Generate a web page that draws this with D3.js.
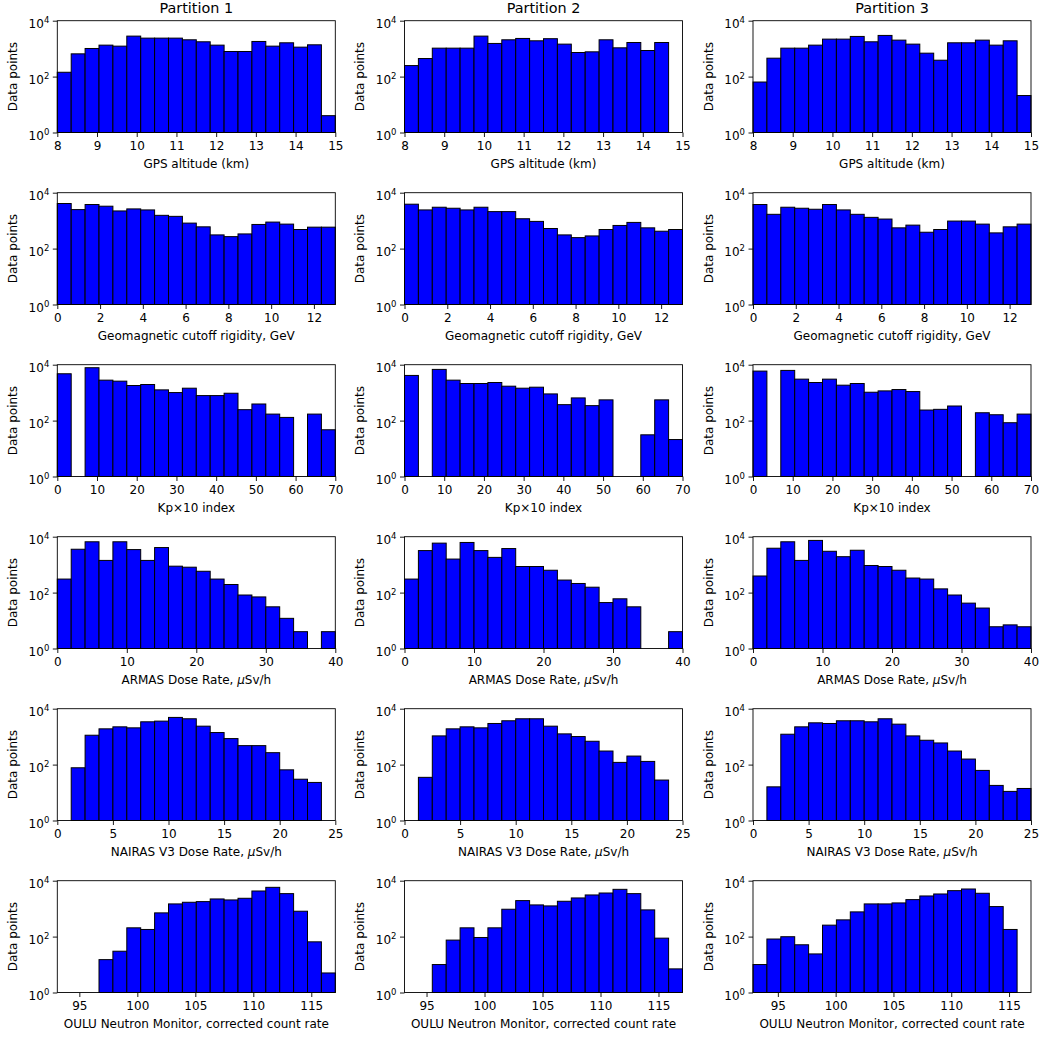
<!DOCTYPE html>
<html>
<head>
<meta charset="utf-8">
<script src="https://cdn.jsdelivr.net/npm/d3@7"></script>
<style>
  body { margin: 0; background: #fff; }
  text { font-family: "DejaVu Sans", sans-serif; fill: #000; }
</style>
</head>
<body>
<div id="chart"></div>
<script>
const partitions = ['Partition 1', 'Partition 2', 'Partition 3'];
const yTicks = [1, 100, 10000];

// counts per bin, 20 equal bins over each x range; one array per partition
const gpsAltitude = [
    [143, 652, 1014, 1336, 1230, 2810, 2380, 2380, 2380, 2075, 1760, 1336, 791, 791, 1808, 1230, 1620, 1132, 1373, 4],
    [248, 443, 1042, 1042, 1042, 2810, 1535, 2075, 2318, 1910, 2270, 1452, 728, 770, 2075, 1071, 1660, 859, 1660, 0],
    [64, 456, 1042, 1042, 1336, 2193, 2193, 2735, 1760, 2972, 2018, 1452, 689, 386, 1620, 1620, 2018, 1336, 1910, 21]
];
const gpsRange = [8, 15];
const gpsTicks = [8, 9, 10, 11, 12, 13, 14, 15];

const cutoffRigidity = [
    [4103, 2487, 3777, 3288, 2225, 2630, 2420, 1550, 1425, 817, 601, 309, 268, 335, 731, 889, 752, 482, 585, 585],
    [3880, 2420, 3020, 2780, 2420, 3020, 2105, 2105, 1170, 940, 524, 309, 247, 284, 482, 673, 865, 553, 419, 482],
    [3777, 1686, 3020, 2780, 2558, 3777, 2420, 1686, 1312, 1141, 553, 692, 385, 482, 966, 966, 752, 365, 601, 752]
];
const cutoffRange = [0, 13];
const cutoffTicks = [0, 2, 4, 6, 8, 10, 12];

const kpIndex = [
    [4740, 0, 7800, 2800, 2578, 1800, 1955, 1257, 1007, 1443, 785, 785, 953, 246, 393, 171, 130, 0, 171, 47],
    [4130, 0, 6790, 2800, 2125, 2125, 2307, 1703, 1443, 1567, 901, 372, 648, 343, 552, 0, 0, 31, 552, 21],
    [5910, 0, 6250, 3044, 2307, 3044, 1850, 2125, 1035, 1156, 1291, 1094, 239, 253, 333, 0, 191, 162, 84, 171]
];
const kpRange = [0, 70];
const kpTicks = [0, 10, 20, 30, 40, 50, 60, 70];

const armasDose = [
    [305, 3560, 6580, 1418, 6580, 3460, 1418, 4090, 882, 811, 580, 305, 195, 82, 70, 31, 12, 4, 0, 4],
    [305, 3186, 5890, 1585, 6220, 3186, 1820, 3765, 857, 857, 631, 281, 212, 156, 44, 60, 31, 0, 0, 4],
    [393, 3870, 6580, 1418, 7360, 3010, 1927, 3275, 933, 857, 631, 332, 305, 136, 82, 42, 28, 6, 7, 6]
];
const armasRange = [0, 40];
const armasTicks = [0, 10, 20, 30, 40];

const nairasDose = [
    [0, 77, 1125, 1903, 2245, 2066, 3400, 3595, 4875, 4365, 2372, 1403, 853, 477, 477, 267, 65, 30, 23, 0],
    [0, 35, 1064, 1903, 2245, 2066, 2960, 3700, 4365, 4365, 2372, 1257, 1007, 684, 306, 120, 202, 130, 28, 0],
    [0, 16, 1222, 2245, 3126, 2960, 3700, 3700, 3400, 4365, 2800, 1064, 743, 595, 306, 158, 62, 18, 11, 14]
];
const nairasRange = [0, 25];
const nairasTicks = [0, 5, 10, 15, 20, 25];

const ouluRate = [
    [0, 0, 0, 15, 30, 206, 180, 706, 1477, 1692, 1786, 2224, 2050, 2350, 4285, 5790, 3445, 809, 65, 5],
    [0, 0, 10, 75, 206, 93, 206, 953, 1940, 1360, 1253, 1837, 2415, 3090, 3630, 4910, 3445, 903, 88, 7],
    [10, 82, 99, 51, 24, 257, 397, 766, 1477, 1477, 1603, 2105, 2843, 3350, 4405, 5050, 3550, 1186, 180, 0]
];
// the count-rate range differs a little between partitions
const ouluRange = [[93.1, 117.07], [93.1, 117.07], [92.85, 116.9]];
const ouluTicks = [95, 100, 105, 110, 115];

const rows = [
    {label: ['GPS altitude (km)'], counts: gpsAltitude, range: [gpsRange, gpsRange, gpsRange], ticks: gpsTicks},
    {label: ['Geomagnetic cutoff rigidity, GeV'], counts: cutoffRigidity, range: [cutoffRange, cutoffRange, cutoffRange], ticks: cutoffTicks},
    {label: ['Kp\u00d710 index'], counts: kpIndex, range: [kpRange, kpRange, kpRange], ticks: kpTicks},
    {label: ['ARMAS Dose Rate, ', '\u03bc', 'Sv/h'], counts: armasDose, range: [armasRange, armasRange, armasRange], ticks: armasTicks},
    {label: ['NAIRAS V3 Dose Rate, ', '\u03bc', 'Sv/h'], counts: nairasDose, range: [nairasRange, nairasRange, nairasRange], ticks: nairasTicks},
    {label: ['OULU Neutron Monitor, corrected count rate'], counts: ouluRate, range: ouluRange, ticks: ouluTicks}
];

const w = 1041;
const h = 1039;
const colLeft = [57.3, 404.5, 753];
const plotW = 278;
const firstTop = 20.7;
const rowStep = 172;
const plotH = 111.8;
const nBins = 20;
const fontSize = 12;

const svg = d3.select('#chart')
    .append('svg')
    .attr('width', w)
    .attr('height', h);

const drawPanel = (row, r, c) => {
    const left = colLeft[c];
    const top = firstTop + r * rowStep;
    const [lo, hi] = row.range[c];
    const step = (hi - lo) / nBins;

    const xScale = d3.scaleLinear().domain([lo, hi]).range([left, left + plotW]);
    const yScale = d3.scaleLog().domain([1, 1e4]).range([top + plotH, top]);

    const bins = row.counts[c]
        .map((v, i) => ({v: v, x0: lo + i * step, x1: lo + (i + 1) * step}))
        .filter(d => d.v > 0);

    const g = svg.append('g');

    g.selectAll('rect.bar')
        .data(bins)
        .enter()
        .append('rect')
        .attr('class', 'bar')
        .attr('x', d => xScale(d.x0))
        .attr('width', d => xScale(d.x1) - xScale(d.x0))
        .attr('y', d => yScale(d.v))
        .attr('height', d => yScale(1) - yScale(d.v))
        .attr('fill', '#0000ff')
        .attr('stroke', '#000')
        .attr('stroke-width', 1);

    const xAxis = g.append('g')
        .attr('transform', `translate(0, ${top + plotH})`)
        .call(d3.axisBottom(xScale).tickValues(row.ticks).tickSize(4.5).tickPadding(4.2).tickFormat(d => d));

    const yAxis = g.append('g')
        .attr('transform', `translate(${left}, 0)`)
        .call(d3.axisLeft(yScale).tickValues(yTicks).tickSize(4.5).tickPadding(3.5).tickFormat(() => ''));

    [xAxis, yAxis].forEach(a => {
        a.select('.domain').remove();
        a.attr('font-family', '"DejaVu Sans", sans-serif').attr('font-size', fontSize);
        a.selectAll('.tick line').attr('stroke', '#000').attr('stroke-width', 0.9);
    });

    // 10 with a superscript exponent
    yAxis.selectAll('.tick text')
        .attr('dy', '0.58em')
        .each(function (d) {
            const t = d3.select(this);
            t.append('tspan').text('10');
            t.append('tspan')
                .attr('dy', -4.7)
                .attr('font-size', 8.5)
                .text(Math.round(Math.log10(d)));
        });

    g.append('rect')
        .attr('x', left)
        .attr('y', top)
        .attr('width', plotW)
        .attr('height', plotH)
        .attr('fill', 'none')
        .attr('stroke', '#000')
        .attr('stroke-width', 0.9);

    const xLabel = g.append('text')
        .attr('x', left + plotW / 2)
        .attr('y', top + plotH + 35.4)
        .attr('text-anchor', 'middle')
        .attr('font-size', fontSize);
    row.label.forEach(part => {
        xLabel.append('tspan')
            .attr('font-style', part === '\u03bc' ? 'italic' : null)
            .text(part);
    });

    g.append('text')
        .attr('transform', `translate(${left - 40.2}, ${top + plotH / 2}) rotate(-90)`)
        .attr('text-anchor', 'middle')
        .attr('font-size', fontSize)
        .text('Data points');

    if (r === 0) {
        g.append('text')
            .attr('x', left + plotW / 2)
            .attr('y', top - 7.8)
            .attr('text-anchor', 'middle')
            .attr('font-size', 14.4)
            .text(partitions[c]);
    }
};

rows.forEach((row, r) => {
    partitions.forEach((p, c) => drawPanel(row, r, c));
});
</script>
</body>
</html>
